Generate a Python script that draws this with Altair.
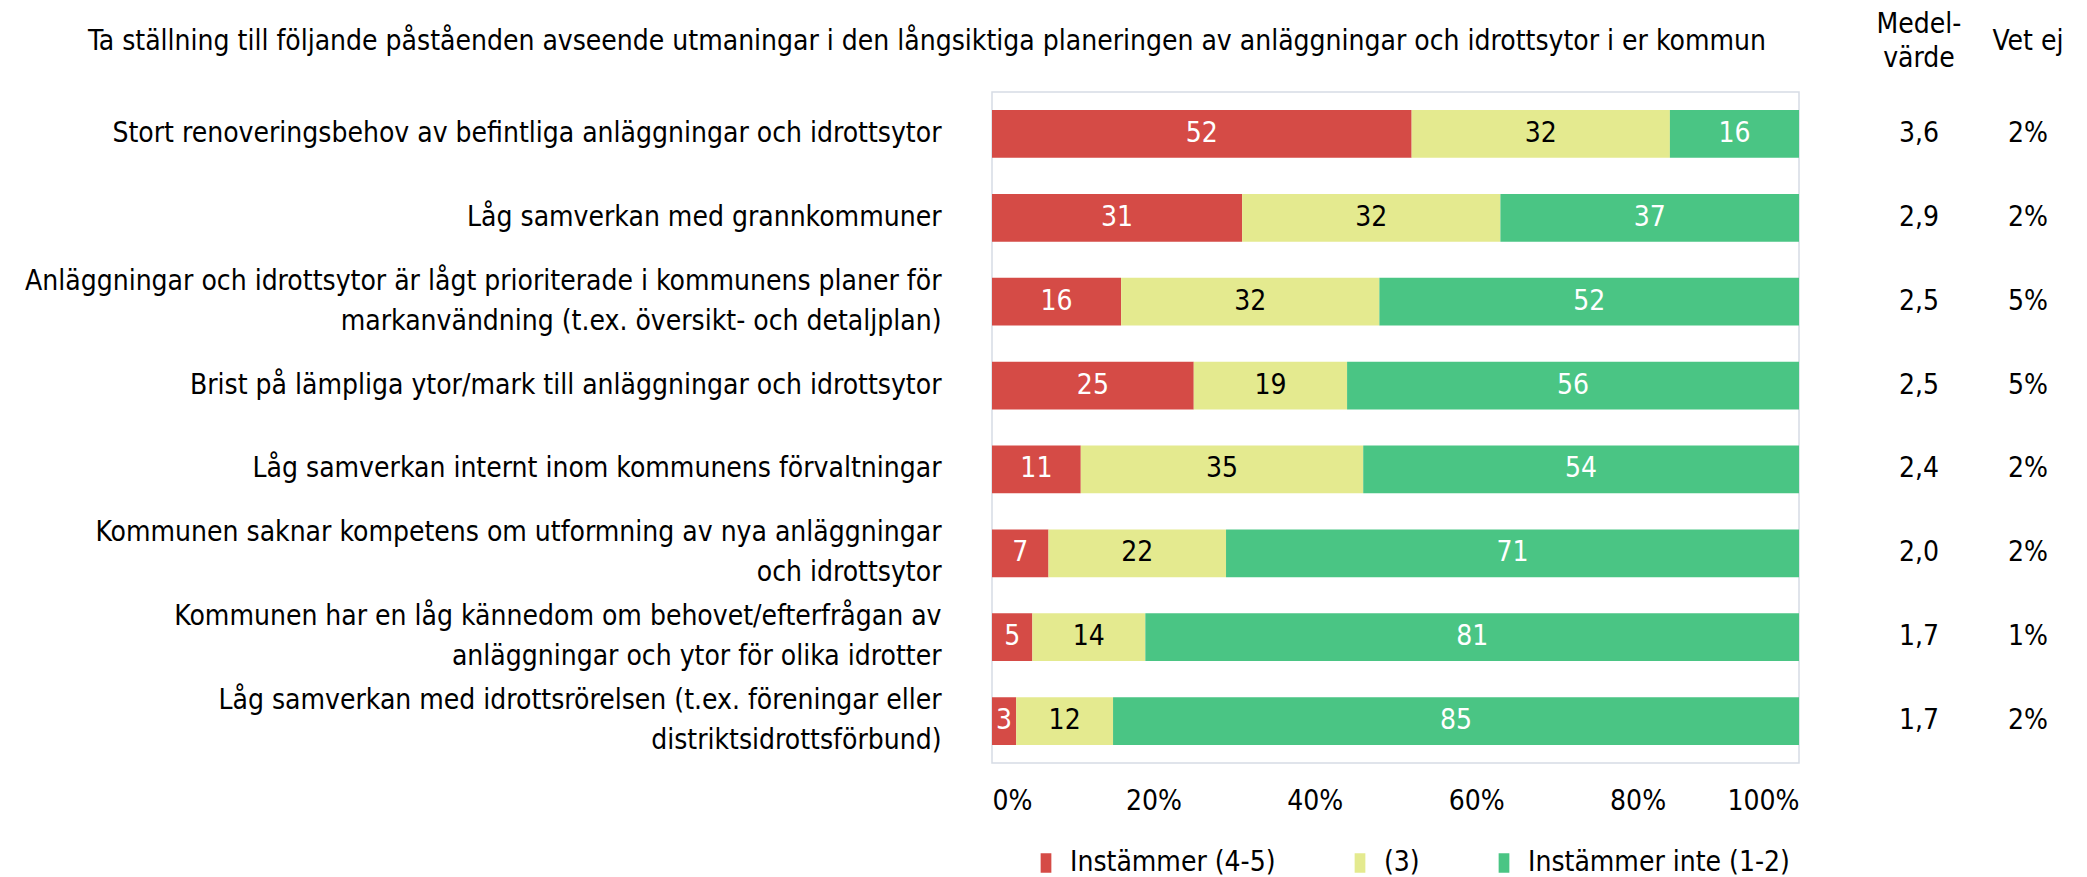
import altair as alt
import pandas as pd

FONT = "DejaVu Sans Condensed, DejaVu Sans, sans-serif"
FS = 28

categories = [
    "Stort renoveringsbehov av befintliga anläggningar och idrottsytor",
    "Låg samverkan med grannkommuner",
    "Anläggningar och idrottsytor är lågt prioriterade i kommunens planer för\nmarkanvändning (t.ex. översikt- och detaljplan)",
    "Brist på lämpliga ytor/mark till anläggningar och idrottsytor",
    "Låg samverkan internt inom kommunens förvaltningar",
    "Kommunen saknar kompetens om utformning av nya anläggningar\noch idrottsytor",
    "Kommunen har en låg kännedom om behovet/efterfrågan av\nanläggningar och ytor för olika idrotter",
    "Låg samverkan med idrottsrörelsen (t.ex. föreningar eller\ndistriktsidrottsförbund)",
]
series = ["Instämmer (4-5)", "(3)", "Instämmer inte (1-2)"]
agree = [52, 31, 16, 25, 11, 7, 5, 3]
neutral = [32, 32, 32, 19, 35, 22, 14, 12]
disagree = [16, 37, 52, 56, 54, 71, 81, 85]
medel = ["3,6", "2,9", "2,5", "2,5", "2,4", "2,0", "1,7", "1,7"]
vet_ej = ["2%", "2%", "5%", "5%", "2%", "2%", "1%", "2%"]
colors = ["#d54b46", "#e4ea8f", "#4ac584"]
text_colors = ["white", "black", "white"]
title_text = ("Ta ställning till följande påståenden avseende utmaningar i den "
              "långsiktiga planeringen av anläggningar och idrottsytor i er kommun")

rows = []
for i, c in enumerate(categories):
    for j, (s, vals) in enumerate(zip(series, [agree, neutral, disagree])):
        rows.append({"cat": c, "series": s, "order": j, "pct": vals[i],
                     "tcolor": text_colors[j]})
df = pd.DataFrame(rows)
side = pd.DataFrame({"cat": categories, "medel": medel, "vet": vet_ej, "col": "a"})

band = alt.Scale(paddingInner=0.43, paddingOuter=0.215)
y_main = alt.Y("cat:N", sort=categories, scale=band, title=None,
               axis=alt.Axis(labelExpr="split(datum.label, '\\n')", labelFontSize=FS,
                             labelLineHeight=40, labelPadding=51, ticks=False,
                             labelOffset={"condition": {"test": "indexof(datum.value, '\\n') >= 0",
                                                        "value": -20}, "value": 0},
                             domain=False, labelLimit=1200, minExtent=978,
                             maxExtent=978, labelColor="black", labelFont=FONT))

base = alt.Chart(df).transform_stack(
    stack="pct", groupby=["cat"], sort=[alt.SortField("order")],
    as_=["p0", "p1"], offset="normalize"
).transform_calculate(mid="(datum.p0 + datum.p1) / 2")

bars = base.mark_bar().encode(
    y=y_main,
    x=alt.X("p0:Q", scale=alt.Scale(domain=[0, 1]), title=None,
            axis=alt.Axis(format=".0%", values=[0, 0.2, 0.4, 0.6, 0.8, 1.0],
                          grid=False, ticks=False, domain=False, labelPadding=24,
                          labelFontSize=FS, labelFont=FONT, labelColor="black")),
    x2="p1:Q",
    color=alt.Color("series:N", sort=series,
                    scale=alt.Scale(domain=series, range=colors),
                    legend=alt.Legend(title=None, orient="none", direction="horizontal",
                                      legendX=40, legendY=757, labelFontSize=FS,
                                      labelFont=FONT, labelColor="black",
                                      symbolType="M-0.55,-1H0.55V1H-0.55Z",
                                      symbolSize=380, symbolStrokeWidth=0,
                                      columnPadding=70, labelOffset=10,
                                      labelLimit=500)),
)
labels = base.mark_text(font=FONT, fontSize=FS, baseline="middle").encode(
    y=alt.Y("cat:N", sort=categories, scale=band),
    x=alt.X("mid:Q"),
    text=alt.Text("pct:Q"),
    color=alt.Color("tcolor:N", scale=None),
)

main = (bars + labels).properties(
    width=807, height=671,
    view=alt.ViewBackground(stroke="#d6dce5", strokeWidth=1.5),
    title=alt.TitleParams(title_text, anchor="start", dx=74, baseline="bottom",
                          fontSize=FS, font=FONT, fontWeight="normal",
                          offset=8, limit=2000, color="black"),
)

def side_col(field, title_lines, off, w):
    return alt.Chart(side).mark_text(font=FONT, fontSize=FS, baseline="middle",
                                     color="black").encode(
        y=alt.Y("cat:N", sort=categories, scale=band, axis=None),
        x=alt.X("col:N", axis=None),
        text=alt.Text(field + ":N"),
    ).properties(
        width=w, height=671,
        view=alt.ViewBackground(stroke="transparent", strokeOpacity=0),
        title=alt.TitleParams(title_lines, anchor="middle", fontSize=FS, font=FONT,
                              fontWeight="normal", lineHeight=34, offset=off,
                              baseline="bottom", color="black"),
    )

medel_col = side_col("medel", ["Medel-", "värde"], -9, 100)
vet_col = side_col("vet", "Vet ej", 8, 90)

chart = alt.hconcat(
    main, alt.hconcat(medel_col, vet_col, spacing=14), spacing=69
).properties(
    padding={"left": 5, "top": 3, "right": 5, "bottom": 5}
).configure_view(strokeWidth=0).configure(font=FONT)

chart.save("out.html", embed_options={"renderer": "svg", "actions": False})
